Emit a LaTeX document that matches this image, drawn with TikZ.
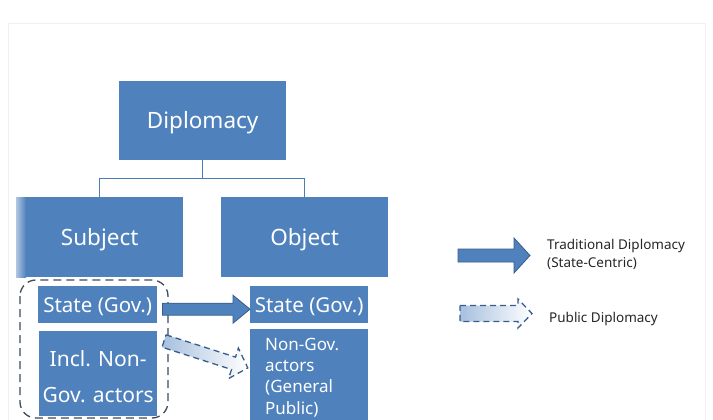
\documentclass[tikz,border=0pt]{standalone}
\usepackage{fontspec}
\setmainfont{Noto Sans}
\usetikzlibrary{calc}
\definecolor{boxblue}{HTML}{4F81BD}
\definecolor{edgeblue}{HTML}{385D8A}
\definecolor{lineblue}{HTML}{4A7EBB}
\definecolor{dashgray}{HTML}{3C4B60}
\begin{document}
\begin{tikzpicture}[x=1pt,y=-1pt,
  box/.style={fill=boxblue, text=white, inner sep=0pt, anchor=north west},
  bigtxt/.style={font=\fontsize{22.5}{26}\selectfont, text height=16pt, text depth=0pt},
  midtxt/.style={font=\fontsize{20.5}{24}\selectfont, text height=14.7pt, text depth=0pt},
  conn/.style={draw=lineblue, line width=1.2pt},
  solidarrow/.style={fill=boxblue, draw=edgeblue, line width=0.8pt},
  dasharrow/.style={left color=boxblue!50, right color=white, draw=edgeblue, line width=1.3pt, dash pattern=on 6pt off 4pt},
  legtxt/.style={font=\fontsize{13.5}{18}\selectfont, text=black!85, inner sep=0pt, align=left}
]
\useasboundingbox (0,0) rectangle (713,420);
\fill[white] (0,0) rectangle (713,420);
\draw[black!6, line width=1pt] (8,430) -- (8,24) -- (705,24) -- (705,430);

\node[box, bigtxt, minimum width=167, minimum height=79] (dip) at (119,81) {Diplomacy};
\node[box, bigtxt, minimum width=167, minimum height=80] (subj) at (16,197) {Subject};
\shade[left color=boxblue!45!white, right color=boxblue] (subj.north west) rectangle ($(subj.south west)+(10,0)$);
\node[box, bigtxt, minimum width=167, minimum height=80] (obj) at (221,197) {Object};
\node[box, midtxt, minimum width=119, minimum height=37] (ls) at (38,286) {State (Gov.)};
\node[box, font=\fontsize{21}{36}\selectfont, align=center, minimum width=118, minimum height=85] (incl) at (39,331) {\rule{0pt}{21pt}Incl. Non-\\Gov. actors};
\node[box, midtxt, minimum width=118, minimum height=37] (rs) at (250,286) {State (Gov.)};
\node[box, font=\fontsize{17}{21.2}\selectfont, align=left, text width=88, inner xsep=15, minimum height=91] (ng) at (250,329) {\rule{0pt}{18pt}Non-Gov.\\actors\\(General\\Public)};

% tree connectors
\draw[conn] (dip.south) -- ++(0,18) coordinate (jn);
\draw[conn] (jn) -| (subj.north);
\draw[conn] (jn) -| (obj.north);

% dashed group
\draw[dashgray, line width=1.3pt, dash pattern=on 8pt off 5pt, rounded corners=16pt] (20,280) rectangle (168,418);

% traditional arrow
\coordinate (tipA) at ($(rs.west)+(0,4.5)$);
\fill[solidarrow] ($(ls.east)+(5,-1.5)$) -- ($(tipA)+(-17,-6)$) -- ($(tipA)+(-17,-14)$) -- (tipA) -- ($(tipA)+(-17,14)$) -- ($(tipA)+(-17,6)$) -- ($(ls.east)+(5,10.5)$) -- cycle;

% public arrow
\begin{scope}[shift={(164,341)}, rotate=-17.8]
\path[dasharrow] (0,-6.5) -- (73,-6.5) -- (73,-16) -- (88,0) -- (73,16) -- (73,6.5) -- (0,6.5) -- cycle;
\end{scope}

% legend
\fill[solidarrow] (458,249) -- (514,249) -- (514,238) -- (530,255.5) -- (514,273) -- (514,262) -- (458,262) -- cycle;
\node[legtxt, anchor=west] (lt1) at (547,254) {Traditional Diplomacy\\(State-Centric)};
\path[dasharrow] (460,305.5) -- (518,305.5) -- (518,299) -- (532,313.5) -- (518,328) -- (518,321.5) -- (460,321.5) -- cycle;
\node[legtxt, anchor=west] (lt2) at (549,319) {Public Diplomacy};
\end{tikzpicture}
\end{document}
